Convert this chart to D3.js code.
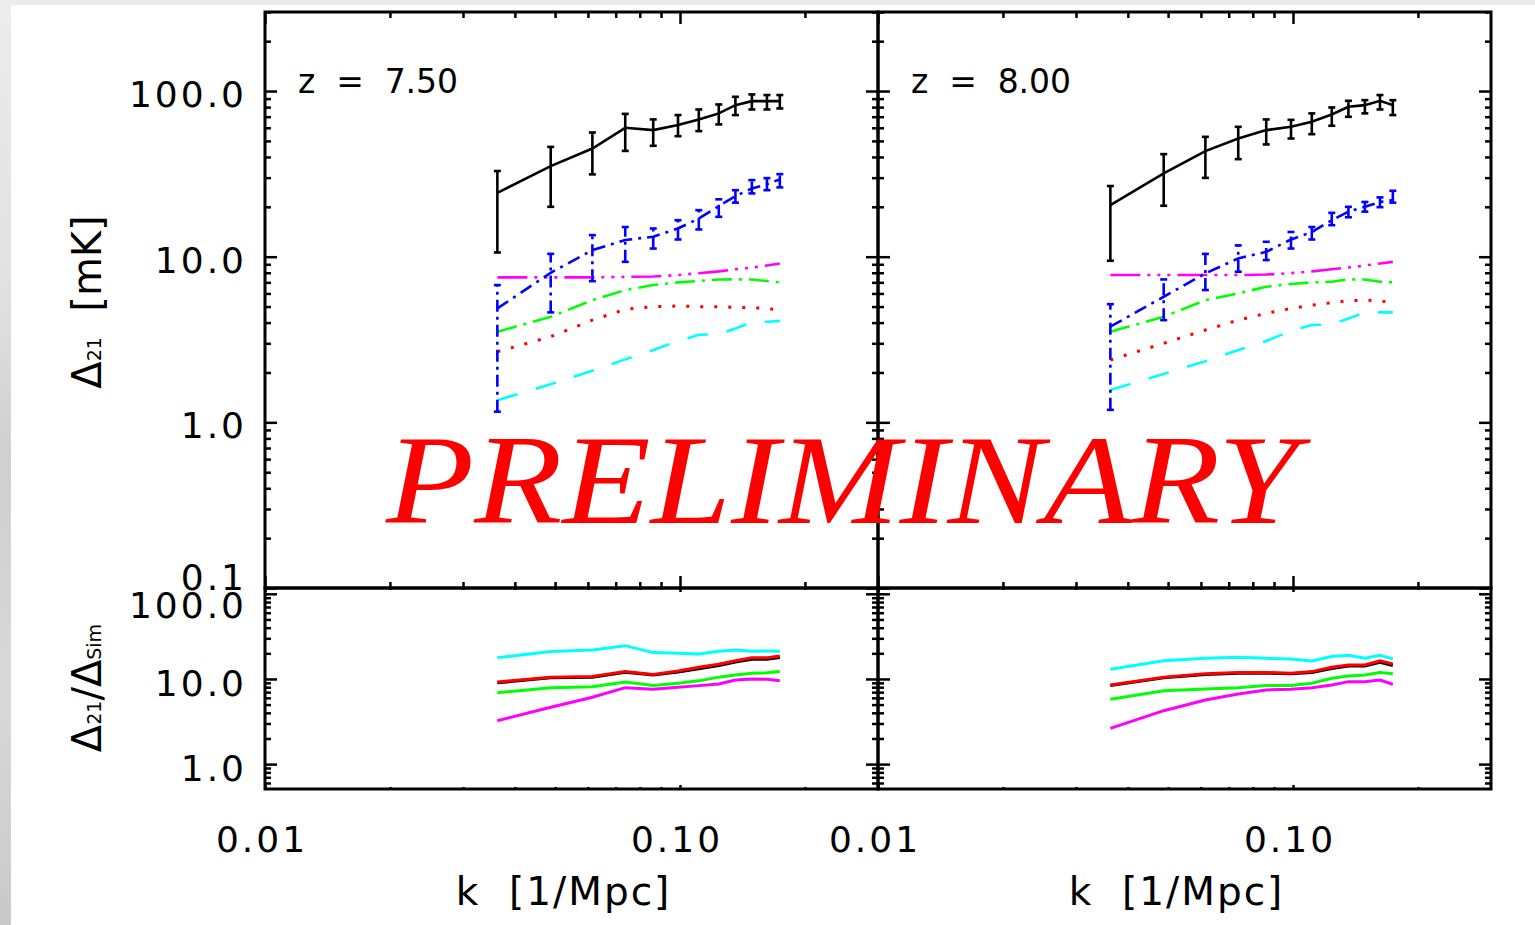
<!DOCTYPE html>
<meta charset="utf-8">
<script src="https://d3js.org/d3.v7.min.js"></script>
<style>
  body { margin: 0; background: #fff; }
  text { font-family: "DejaVu Sans", sans-serif; }
</style>
<body>
<div id="my_dataviz"></div>
<script>

// k bins, same for both redshifts
var kBins = [0.0363, 0.0488, 0.0615, 0.0738, 0.0862, 0.0989, 0.111, 0.124, 0.136, 0.149, 0.162, 0.174];

// z = 7.50  (top panel, Delta_21 in mK)
var sim75    = [24.3, 35.2, 45.0, 60.0, 58.1, 62.3, 67.4, 73.3, 82.2, 86.9, 86.9, 86.9];
var sim75Lo  = [10.6, 20.0, 31.4, 43.5, 46.7, 53.4, 57.3, 62.9, 71.6, 77.4, 77.4, 78.5];
var sim75Hi  = [32.9, 46.0, 56.2, 72.8, 67.4, 71.6, 77.4, 83.0, 92.3, 95.4, 94.6, 94.6];
var blue75   = [4.87, 8.0, 10.96, 12.6, 13.2, 14.8, 17.0, 20.2, 23.2, 25.8, 27.4, 29.3];
var blue75Lo = [1.16, 4.61, 7.12, 9.31, 11.2, 12.7, 14.6, 17.4, 21.2, 24.1, 25.2, 26.2];
var blue75Hi = [6.74, 10.4, 13.5, 15.1, 14.8, 16.6, 19.1, 22.2, 25.2, 29.0, 29.8, 31.5];
var mag75    = [7.5, 7.5, 7.5, 7.55, 7.6, 7.75, 7.95, 8.15, 8.4, 8.6, 8.85, 9.1];
var grn75    = [3.52, 4.34, 5.47, 6.29, 6.74, 7.0, 7.13, 7.28, 7.3, 7.28, 7.13, 7.0];
var red75    = [2.67, 3.29, 4.14, 4.81, 4.99, 5.04, 4.99, 4.99, 4.94, 4.92, 4.87, 4.76];
var cyan75   = [1.36, 1.70, 2.05, 2.40, 2.73, 3.10, 3.38, 3.41, 3.69, 4.03, 4.05, 4.10];

// z = 8.00
var sim80    = [20.5, 31.8, 43.4, 51.7, 58.1, 60.8, 65.2, 72.2, 80.3, 82.2, 87.3, 82.2];
var sim80Lo  = [9.45, 20.3, 29.9, 38.8, 47.6, 51.7, 54.9, 61.7, 69.9, 73.3, 77.4, 71.6];
var sim80Hi  = [26.7, 41.6, 52.9, 60.8, 67.4, 67.0, 73.3, 79.6, 87.3, 88.1, 94.6, 88.1];
var blue80   = [3.78, 5.73, 7.93, 9.77, 10.7, 12.7, 14.1, 16.6, 18.7, 20.0, 21.4, 22.0];
var blue80Lo = [1.19, 4.14, 6.29, 8.11, 9.54, 11.2, 12.7, 15.5, 17.3, 18.7, 19.9, 21.2];
var blue80Hi = [5.17, 7.29, 10.4, 11.7, 12.3, 14.1, 15.1, 18.4, 20.0, 21.4, 22.8, 25.0];
var mag80    = [7.75, 7.75, 7.75, 7.75, 7.8, 7.95, 8.15, 8.4, 8.6, 8.85, 9.1, 9.3];
var grn80    = [3.52, 4.34, 5.47, 6.01, 6.58, 6.84, 7.0, 7.06, 7.3, 7.28, 7.06, 7.0];
var red80    = [2.38, 3.0, 3.61, 4.14, 4.55, 4.87, 5.1, 5.27, 5.42, 5.47, 5.42, 5.27];
var cyan80   = [1.57, 1.96, 2.34, 2.73, 3.10, 3.56, 3.87, 3.90, 4.24, 4.61, 4.61, 4.61];

// ratios Delta_21 / Delta_Sim (bottom panels)
var rCyan75  = [17.8, 21.0, 21.9, 24.6, 20.4, 20.1, 19.7, 21.2, 21.9, 21.2, 21.3, 21.2];
var rBlack75 = [9.0, 10.3, 10.5, 12.0, 11.1, 12.1, 13.2, 14.4, 15.8, 17.0, 17.0, 17.8];
var rRed75   = [9.2, 10.5, 10.7, 12.2, 11.3, 12.4, 13.7, 14.9, 16.4, 17.7, 17.8, 18.6];
var rGrn75   = [6.9, 7.9, 8.1, 9.2, 8.4, 8.9, 9.5, 10.5, 11.1, 11.7, 11.8, 12.2];
var rMag75   = [3.23, 4.65, 6.09, 7.9, 7.56, 7.98, 8.35, 8.74, 9.73, 10.0, 9.9, 9.5];

var rCyan80  = [13.0, 16.4, 17.5, 18.0, 17.5, 17.1, 16.3, 18.3, 19.0, 17.5, 19.0, 17.2];
var rBlack80 = [8.4, 10.3, 11.3, 11.7, 11.7, 11.5, 11.9, 13.3, 14.2, 14.2, 15.7, 14.4];
var rRed80   = [8.5, 10.5, 11.5, 11.9, 11.9, 11.7, 12.2, 13.7, 14.6, 14.6, 16.3, 15.0];
var rGrn80   = [5.77, 7.28, 7.63, 7.9, 8.35, 8.4, 8.9, 10.2, 10.8, 11.1, 11.9, 11.5];
var rMag80   = [2.63, 4.24, 5.66, 6.67, 7.43, 7.57, 7.9, 8.5, 9.3, 9.3, 9.73, 8.66];

// tick labels
var xTickVals = [0.01, 0.1], xTickLabels = ["0.01", "0.10"];
var yTopVals = [0.1, 1, 10, 100], yTopLabels = ["0.1", "1.0", "10.0", "100.0"];
var yBotVals = [1, 10, 100], yBotLabels = ["1.0", "10.0", "100.0"];
var zLabels = ["z  =  7.50", "z  =  8.00"];

// ---------------------------------------------------------------
var W = 1535, H = 925;
var svg = d3.select("#my_dataviz").append("svg")
    .attr("width", W).attr("height", H);

// backdrop: grey slide edge + white page
var defs = svg.append("defs");
var gr = defs.append("linearGradient").attr("id", "edge")
    .attr("x1", 0).attr("y1", 0).attr("x2", 0).attr("y2", 1);
gr.append("stop").attr("offset", "0").attr("stop-color", "#ececec");
gr.append("stop").attr("offset", "0.3").attr("stop-color", "#e2e2e2");
gr.append("stop").attr("offset", "0.5").attr("stop-color", "#cfcfcf");
gr.append("stop").attr("offset", "0.75").attr("stop-color", "#d9d9d9");
gr.append("stop").attr("offset", "1").attr("stop-color", "#c9c9c9");
svg.append("rect").attr("width", W).attr("height", H).attr("fill", "#ececec");
svg.append("rect").attr("width", 11).attr("height", H).attr("fill", "url(#edge)");
svg.append("rect").attr("x", 11).attr("y", 5).attr("width", W - 11).attr("height", H - 5).attr("fill", "#fff");

var topY = [588, 12], botY = [789, 588];

var panels = [
  {x0: 265, x1: 878, z: zLabels[0],
   sim: sim75, simLo: sim75Lo, simHi: sim75Hi, blue: blue75, blueLo: blue75Lo, blueHi: blue75Hi,
   mag: mag75, grn: grn75, red: red75, cyan: cyan75,
   rCyan: rCyan75, rBlack: rBlack75, rRed: rRed75, rGrn: rGrn75, rMag: rMag75},
  {x0: 878, x1: 1491, z: zLabels[1],
   sim: sim80, simLo: sim80Lo, simHi: sim80Hi, blue: blue80, blueLo: blue80Lo, blueHi: blue80Hi,
   mag: mag80, grn: grn80, red: red80, cyan: cyan80,
   rCyan: rCyan80, rBlack: rBlack80, rRed: rRed80, rGrn: rGrn80, rMag: rMag80}
];

// log minor tick values inside a domain
function minorTicks(lo, hi) {
  var out = [];
  for (var e = Math.floor(Math.log10(lo)); e <= Math.ceil(Math.log10(hi)); e++) {
    for (var m = 2; m <= 9; m++) {
      var v = m * Math.pow(10, e);
      if (v >= lo && v <= hi) out.push(v);
    }
  }
  return out;
}

function tickAxis(g, axisFn, scale, vals, len) {
  var a = axisFn(scale).tickValues(vals).tickSize(-len).tickFormat("");
  var s = g.append("g").call(a);
  s.select(".domain").remove();
  s.selectAll("line").attr("stroke", "#000").attr("stroke-width", 2.5);
  return s;
}

// frame with inward IDL-style ticks on all sides
function frame(x, y, xTickLen, yTickLen) {
  var xr = x.range(), yr = y.range();
  var xd = x.domain(), yd = y.domain();
  var xMaj = [0.01, 0.1].filter(function (v) { return v >= xd[0] && v <= xd[1]; });
  var yMaj = [0.1, 1, 10, 100].filter(function (v) { return v >= yd[0] && v <= yd[1]; });
  var xMin = minorTicks(xd[0], xd[1]), yMin = minorTicks(yd[0], yd[1]);
  var g = svg.append("g");

  var gb = g.append("g").attr("transform", "translate(0," + yr[0] + ")");
  tickAxis(gb, d3.axisBottom, x, xMaj, xTickLen);
  tickAxis(gb, d3.axisBottom, x, xMin, xTickLen / 2);
  var gt = g.append("g").attr("transform", "translate(0," + yr[1] + ")");
  tickAxis(gt, d3.axisTop, x, xMaj, xTickLen);
  tickAxis(gt, d3.axisTop, x, xMin, xTickLen / 2);
  var gl = g.append("g").attr("transform", "translate(" + xr[0] + ",0)");
  tickAxis(gl, d3.axisLeft, y, yMaj, yTickLen);
  tickAxis(gl, d3.axisLeft, y, yMin, yTickLen / 2);
  var gr2 = g.append("g").attr("transform", "translate(" + xr[1] + ",0)");
  tickAxis(gr2, d3.axisRight, y, yMaj, yTickLen);
  tickAxis(gr2, d3.axisRight, y, yMin, yTickLen / 2);

  g.append("rect")
    .attr("x", xr[0]).attr("y", yr[1])
    .attr("width", xr[1] - xr[0]).attr("height", yr[0] - yr[1])
    .attr("fill", "none").attr("stroke", "#000").attr("stroke-width", 3);
}

var styles = {
  blue: "13,6,3,6",
  mag:  "30,7,3,7,3,7,3,7",
  grn:  "20,7,3,7",
  red:  "3,11",
  cyan: "21,19"
};

panels.forEach(function (p, pi) {
  var x = d3.scaleLog().domain([0.01, 0.3]).range([p.x0, p.x1]);
  var yT = d3.scaleLog().domain([0.1, 300]).range(topY);
  var yB = d3.scaleLog().domain([0.51, 117]).range(botY);

  // ---- top panel curves
  var lineT = d3.line().x(function (d) { return x(d[0]); }).y(function (d) { return yT(d[1]); });
  var gT = svg.append("g");
  function curve(vals, color, dash, w) {
    gT.append("path")
      .datum(kBins.map(function (k, i) { return [k, vals[i]]; }))
      .attr("d", lineT)
      .attr("fill", "none").attr("stroke", color).attr("stroke-width", w || 2.6)
      .attr("stroke-dasharray", dash || null);
  }
  function errbars(lo, hi, color, dash) {
    var eb = gT.append("g").selectAll("g").data(kBins).enter().append("g");
    eb.append("line")
      .attr("x1", function (k) { return x(k); }).attr("x2", function (k) { return x(k); })
      .attr("y1", function (k, i) { return yT(lo[i]); })
      .attr("y2", function (k, i) { return yT(hi[i]); })
      .attr("stroke", color).attr("stroke-width", 2.6)
      .attr("stroke-dasharray", dash || null);
    [lo, hi].forEach(function (arr) {
      eb.append("line")
        .attr("x1", function (k) { return x(k) - 3.5; }).attr("x2", function (k) { return x(k) + 3.5; })
        .attr("y1", function (k, i) { return yT(arr[i]); })
        .attr("y2", function (k, i) { return yT(arr[i]); })
        .attr("stroke", color).attr("stroke-width", 2.6);
    });
  }
  curve(p.cyan, "#00ffff", styles.cyan);
  curve(p.red, "#ff0000", styles.red, 3);
  curve(p.grn, "#00ff00", styles.grn);
  curve(p.mag, "#ff00ff", styles.mag);
  curve(p.blue, "#0000ff", styles.blue);
  errbars(p.blueLo, p.blueHi, "#0000ff", "12,5,3,5");
  curve(p.sim, "#000");
  errbars(p.simLo, p.simHi, "#000");

  // ---- bottom panel ratios
  var lineB = d3.line().x(function (d) { return x(d[0]); }).y(function (d) { return yB(d[1]); });
  var gB = svg.append("g");
  [[p.rCyan, "#00ffff"], [p.rBlack, "#000"], [p.rRed, "#ff0000"], [p.rGrn, "#00ff00"], [p.rMag, "#ff00ff"]]
    .forEach(function (s) {
      gB.append("path")
        .datum(kBins.map(function (k, i) { return [k, s[0][i]]; }))
        .attr("d", lineB)
        .attr("fill", "none").attr("stroke", s[1]).attr("stroke-width", 3);
    });

  frame(x, yT, 12, 12);
  frame(x, yB, 4, 12);

  // x tick labels
  svg.append("g").selectAll("text").data(xTickVals).enter().append("text")
    .attr("x", function (d) { return x(d) - 3; })
    .attr("y", 852)
    .attr("text-anchor", "middle")
    .attr("font-size", 36).attr("letter-spacing", 3)
    .text(function (d, i) { return xTickLabels[i]; });

  svg.append("text")
    .attr("x", (p.x0 + p.x1) / 2 - 8).attr("y", 905)
    .attr("text-anchor", "middle")
    .attr("font-size", 39).attr("letter-spacing", 2)
    .attr("xml:space", "preserve")
    .text("k  [1/Mpc]");

  svg.append("text")
    .attr("x", p.x0 + 33).attr("y", 93)
    .attr("font-size", 33)
    .attr("textLength", 160)
    .attr("xml:space", "preserve")
    .text(p.z);

  if (pi === 0) {
    var yL = svg.append("g");
    yL.selectAll("text.top").data(yTopVals).enter().append("text")
      .attr("x", 247)
      .attr("y", function (d) { return yT(d) + (d === 0.1 ? 2 : 16); })
      .attr("text-anchor", "end")
      .attr("font-size", 36).attr("letter-spacing", 3)
      .text(function (d, i) { return yTopLabels[i]; });
    yL.selectAll("text.bot").data(yBotVals).enter().append("text")
      .attr("x", 247)
      .attr("y", function (d) { return yB(d) + (d === 100 ? 24 : 17); })
      .attr("text-anchor", "end")
      .attr("font-size", 36).attr("letter-spacing", 3)
      .text(function (d, i) { return yBotLabels[i]; });
  }
});

// y axis titles
var t1 = svg.append("text")
  .attr("transform", "translate(101,302) rotate(-90)")
  .attr("text-anchor", "middle")
  .attr("font-size", 40)
  .attr("xml:space", "preserve");
t1.append("tspan").text("Δ");
t1.append("tspan").attr("font-size", 19).text("21");
t1.append("tspan").text("  [mK]");

var t2 = svg.append("text")
  .attr("transform", "translate(101,688) rotate(-90)")
  .attr("text-anchor", "middle")
  .attr("font-size", 40);
t2.append("tspan").text("Δ");
t2.append("tspan").attr("font-size", 19).text("21");
t2.append("tspan").text("/Δ");
t2.append("tspan").attr("font-size", 19).text("Sim");

// watermark
svg.append("text")
  .attr("x", 386).attr("y", 523)
  .style("font-family", "'Liberation Serif', 'DejaVu Serif', serif")
  .style("font-style", "italic")
  .attr("font-size", 128)
  .attr("fill", "#ff0000")
  .attr("textLength", 912)
  .attr("lengthAdjust", "spacingAndGlyphs")
  .text("PRELIMINARY");

</script>
</body>
